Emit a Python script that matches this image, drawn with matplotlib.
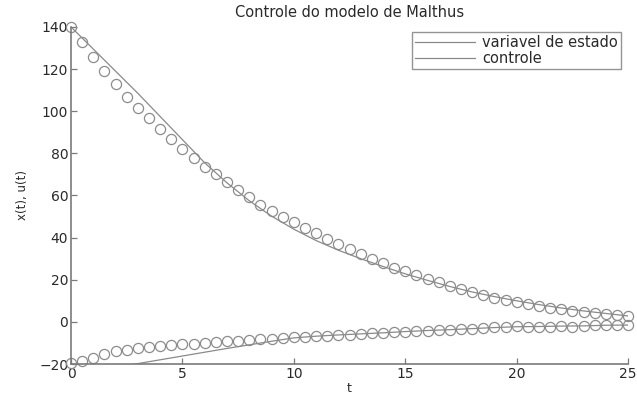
import numpy as np
import matplotlib
matplotlib.use("Agg")
import matplotlib.pyplot as plt

plt.rcParams['font.family'] = ['DejaVu Sans']

# sampled (circle) data
t_samples = np.arange(0, 25.5, 0.5)
state_samples = [140, 133.0, 125.9, 119.2, 112.9, 106.9, 101.7, 96.6, 91.6, 86.9,
                 82.2, 77.9, 73.7, 70.1, 66.4, 62.8, 59.3, 55.6, 52.7, 49.9,
                 47.2, 44.6, 42.1, 39.4, 36.9, 34.5, 32.2, 29.9, 27.8, 25.7,
                 24.0, 22.3, 20.4, 18.8, 17.2, 15.7, 14.2, 12.8, 11.5, 10.4,
                 9.5, 8.5, 7.5, 6.7, 6.0, 5.2, 4.7, 4.1, 3.6, 3.2, 3.0]
control_samples = [-19.5, -18.5, -17.0, -15.2, -14.0, -13.2, -12.6, -12.0, -11.5, -11.0,
                   -10.7, -10.3, -10.0, -9.6, -9.2, -8.9, -8.5, -8.2, -7.9, -7.6,
                   -7.3, -7.0, -6.8, -6.5, -6.2, -6.0, -5.7, -5.4, -5.2, -4.9,
                   -4.6, -4.4, -4.1, -3.9, -3.7, -3.4, -3.2, -3.0, -2.6, -2.3,
                   -2.0, -2.6, -2.4, -2.2, -2.0, -2.2, -1.9, -1.7, -1.5, -1.7, -1.6]

# solid-line data
t_line = [0, 1, 2, 3, 4, 5, 6, 7, 8, 9, 10, 11, 12, 13, 14, 15, 16, 17, 18, 19, 20, 21, 22, 23, 24, 25]
state_line = [140, 129.5, 119, 108.5, 97.5, 86.5, 75.5, 66, 57.5, 50.2, 44, 38.6, 34, 30, 26.3,
              22.8, 19.7, 16.8, 14.2, 12, 10, 8.2, 6.6, 5.2, 4, 2.8]
control_line = [-25, -23.5, -21.6, -19.8, -18.0, -16.2, -14.4, -12.6, -10.9, -9.2, -7.6, -6.8,
                -6.2, -5.7, -5.2, -4.6, -4.1, -3.7, -3.2, -2.7, -2.3, -2.2, -2.0, -1.9, -1.6, -1.5]

labels = ['variavel de estado', 'controle']
xticks = [0, 5, 10, 15, 20, 25]
yticks = [-20, 0, 20, 40, 60, 80, 100, 120, 140]

line_col = '#8a8a8a'
mark_col = '#8c8c8c'
txt_col = '#2a2a2a'

fig = plt.figure(figsize=(6.37, 3.97), dpi=100)
ax = fig.add_axes([0.1115, 0.0831, 0.8745, 0.849])

ax.plot(t_line, state_line, '-', color=line_col, lw=0.9, label=labels[0])
ax.plot(t_line, control_line, '-', color=line_col, lw=0.9, label=labels[1])
ax.plot(t_samples, state_samples, 'o', mfc='none', mec=mark_col, ms=7.3, mew=0.9, clip_on=False)
ax.plot(t_samples, control_samples, 'o', mfc='none', mec=mark_col, ms=7.3, mew=0.9, clip_on=False)

ax.set_xlim(0, 25)
ax.set_ylim(-20, 140)
ax.set_xticks(xticks)
ax.set_yticks(yticks)
for s in ['top', 'right']:
    ax.spines[s].set_visible(False)
for s in ['left', 'bottom']:
    ax.spines[s].set_color('#7a7a7a')
    ax.spines[s].set_linewidth(1.2)
ax.tick_params(direction='in', length=4, width=0.9, color='#7a7a7a',
               labelsize=10, labelcolor=txt_col, pad=2)

ax.set_title('Controle do modelo de Malthus', fontsize=10.5, color=txt_col, pad=7)
ax.set_xlabel('t', fontsize=9, color=txt_col, labelpad=1)
ax.set_ylabel('x(t), u(t)', fontsize=8.5, color=txt_col, labelpad=7)

leg = ax.legend(loc='upper right', bbox_to_anchor=(0.9875, 0.985), fontsize=10.5,
                frameon=True, fancybox=False, handlelength=4.1, handletextpad=0.5,
                borderpad=0.2, labelspacing=0.05, borderaxespad=0)
leg.get_frame().set_edgecolor('#7a7a7a')
leg.get_frame().set_linewidth(1.0)
for tx in leg.get_texts():
    tx.set_color(txt_col)

fig.savefig('out.png', dpi=100)
